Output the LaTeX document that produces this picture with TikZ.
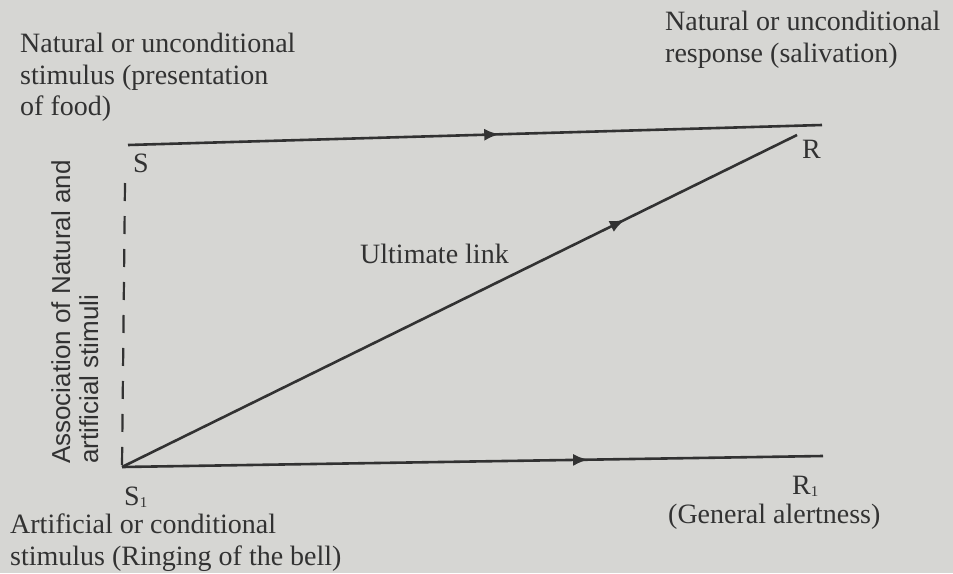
\documentclass[tikz,border=0pt]{standalone}
\usepackage{fontspec}
\setmainfont{Liberation Serif}
\newfontfamily\assocfont{Liberation Sans}
\usetikzlibrary{arrows.meta,decorations.markings}
\definecolor{paper}{RGB}{214,214,211}
\definecolor{ink}{RGB}{50,50,50}
\newcommand{\tinysub}[1]{\raisebox{-0.2ex}{\fontsize{15}{15}\selectfont #1}}
\tikzset{
  lbl/.style={inner sep=0pt, text=ink, font=\fontsize{28}{31.5}\selectfont},
  conn/.style={draw=ink, line width=2.6pt},
  midarrow/.style={postaction={decorate}, decoration={markings,
     mark=at position #1 with {\arrow{Latex[length=15pt,width=12pt]}}}},
  assoc/.style={draw=ink, line width=2.2pt, dash pattern=on 18pt off 15pt}
}
\begin{document}
\begin{tikzpicture}[x=1pt,y=-1pt]
\fill[paper] (0,0) rectangle (953,573);
\useasboundingbox (0,0) rectangle (953,573);
% end points
\coordinate (S) at (128,145);
\coordinate (Stop) at (125,183);
\coordinate (Rtop) at (822,125);
\coordinate (R) at (797,135);
\coordinate (S1) at (122,467);
\coordinate (R1) at (823,456);
% connectors
\draw[conn, midarrow=0.535] (S) -- (Rtop);
\draw[conn, midarrow=0.745] (S1) -- (R);
\draw[conn, midarrow=0.665] (S1) -- (R1);
\draw[assoc] (Stop) -- (S1);
% labels
\node[lbl, anchor=base west] (lS) at (133,172) {S};
\node[lbl, anchor=base west] (lR) at (802,158) {R};
\node[lbl, anchor=base west] (lS1) at (124,505) {S\tinysub{1}};
\node[lbl, anchor=base west] (lR1) at (792,494) {R\tinysub{1}};
\node[lbl, anchor=north west, align=left] (tl) at (20,33)
  {Natural or unconditional\\stimulus (presentation\\of food)};
\node[lbl, anchor=north west, align=left] (tr) at (665,11)
  {Natural or unconditional\\response (salivation)};
\node[lbl, anchor=north west, align=left] (bl) at (10,514)
  {Artificial or conditional\\stimulus (Ringing of the bell)};
\node[lbl, anchor=base west] (gr) at (668,523) {(General alertness)};
\node[lbl, anchor=base west] (ul) at (360,263) {Ultimate link};
\node[lbl, anchor=north west, align=left, rotate=90,
      font=\assocfont\fontsize{26}{28}\selectfont] (as) at (51,464)
  {Association of Natural and\\artificial stimuli};
\end{tikzpicture}
\end{document}
